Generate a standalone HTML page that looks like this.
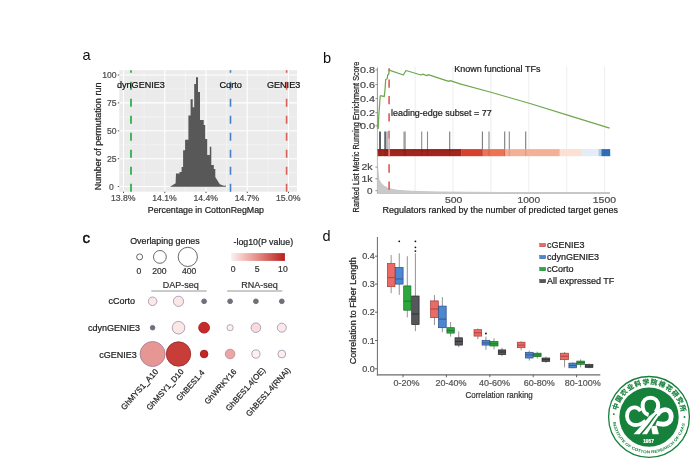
<!DOCTYPE html>
<html><head><meta charset="utf-8"><title>Figure</title>
<style>
html,body{margin:0;padding:0;background:#fff;}
svg{display:block;}
text{font-family:"Liberation Sans",sans-serif;}
.cj{font-family:"Liberation Sans","Noto Sans CJK SC",sans-serif;}
</style></head><body>
<svg width="700" height="467" viewBox="0 0 700 467">
<rect x="0" y="0" width="700" height="467" fill="#ffffff"/>
<defs><filter id="soft" x="0" y="0" width="700" height="467" filterUnits="userSpaceOnUse"><feGaussianBlur stdDeviation="0.45"/></filter></defs>
<g filter="url(#soft)">

<g id="panel-a">
<text x="82.4" y="59.6" font-size="14.6" fill="#111" stroke="none">a</text>
<rect x="119.2" y="70.2" width="177.8" height="121.49999999999999" fill="#ebebeb"/>
<line x1="144.15" y1="70.2" x2="144.15" y2="191.7" stroke="#f6f6f6" stroke-width="0.6"/>
<line x1="185.4" y1="70.2" x2="185.4" y2="191.7" stroke="#f6f6f6" stroke-width="0.6"/>
<line x1="226.6" y1="70.2" x2="226.6" y2="191.7" stroke="#f6f6f6" stroke-width="0.6"/>
<line x1="267.9" y1="70.2" x2="267.9" y2="191.7" stroke="#f6f6f6" stroke-width="0.6"/>
<line x1="119.2" y1="88.95" x2="297.0" y2="88.95" stroke="#f6f6f6" stroke-width="0.6"/>
<line x1="119.2" y1="116.85" x2="297.0" y2="116.85" stroke="#f6f6f6" stroke-width="0.6"/>
<line x1="119.2" y1="144.75" x2="297.0" y2="144.75" stroke="#f6f6f6" stroke-width="0.6"/>
<line x1="119.2" y1="172.6" x2="297.0" y2="172.6" stroke="#f6f6f6" stroke-width="0.6"/>
<line x1="123.5" y1="70.2" x2="123.5" y2="191.7" stroke="#ffffff" stroke-width="1.1"/>
<line x1="164.8" y1="70.2" x2="164.8" y2="191.7" stroke="#ffffff" stroke-width="1.1"/>
<line x1="206.0" y1="70.2" x2="206.0" y2="191.7" stroke="#ffffff" stroke-width="1.1"/>
<line x1="247.25" y1="70.2" x2="247.25" y2="191.7" stroke="#ffffff" stroke-width="1.1"/>
<line x1="288.5" y1="70.2" x2="288.5" y2="191.7" stroke="#ffffff" stroke-width="1.1"/>
<line x1="119.2" y1="75" x2="297.0" y2="75" stroke="#ffffff" stroke-width="1.1"/>
<line x1="119.2" y1="102.9" x2="297.0" y2="102.9" stroke="#ffffff" stroke-width="1.1"/>
<line x1="119.2" y1="130.8" x2="297.0" y2="130.8" stroke="#ffffff" stroke-width="1.1"/>
<line x1="119.2" y1="158.7" x2="297.0" y2="158.7" stroke="#ffffff" stroke-width="1.1"/>
<line x1="119.2" y1="186.5" x2="297.0" y2="186.5" stroke="#ffffff" stroke-width="1.1"/>
<polygon fill="#585858" points="170,186.7 175.6,183.2 176,173.6 179.5,173.6 179.5,172 181.6,172 181.6,167.1 183.1,167.1 183.1,150.2 185.1,150.2 185.1,139.7 188.4,139.7 188.4,115.5 190.6,115.5 190.6,99.2 192.7,99.2 192.7,107.2 194.2,107.2 194.2,84.1 196,84.1 196,77.2 198,77.2 198,92.1 200,92.1 200,120 203.7,120 203.7,125 205.2,125 205.2,139 207.2,139 207.2,155 209.8,155 209.8,146.7 211.3,146.7 211.3,165 213.8,165 213.8,169 215.3,169 215.3,177 219.8,184.2 224.5,186 225.4,185 226,186.7"/>
<line x1="131.0" y1="191.7" x2="131.0" y2="70.2" stroke="#1fa637" stroke-width="1.6" stroke-dasharray="8 9"/>
<line x1="230.5" y1="191.7" x2="230.5" y2="70.2" stroke="#4a80c4" stroke-width="1.6" stroke-dasharray="8 9"/>
<line x1="286.6" y1="191.7" x2="286.6" y2="70.2" stroke="#d9605a" stroke-width="1.6" stroke-dasharray="8 9"/>
<text x="117.0" y="87.6" font-size="9" fill="#111" textLength="47.8" lengthAdjust="spacingAndGlyphs" stroke="#111" stroke-width="0.22">dynGENIE3</text>
<text x="219.5" y="87.6" font-size="9" fill="#111" textLength="22.4" lengthAdjust="spacingAndGlyphs" stroke="#111" stroke-width="0.22">Corto</text>
<text x="267.0" y="87.6" font-size="9" fill="#111" textLength="33.2" lengthAdjust="spacingAndGlyphs" stroke="#111" stroke-width="0.22">GENIE3</text>
<text x="116.6" y="78.1" font-size="8.6" fill="#4d4d4d" text-anchor="end" stroke="#4d4d4d" stroke-width="0.22">100</text>
<line x1="117.8" y1="75" x2="119.2" y2="75" stroke="#444" stroke-width="0.9"/>
<text x="116.6" y="106.0" font-size="8.6" fill="#4d4d4d" text-anchor="end" stroke="#4d4d4d" stroke-width="0.22">75</text>
<line x1="117.8" y1="102.9" x2="119.2" y2="102.9" stroke="#444" stroke-width="0.9"/>
<text x="116.6" y="133.9" font-size="8.6" fill="#4d4d4d" text-anchor="end" stroke="#4d4d4d" stroke-width="0.22">50</text>
<line x1="117.8" y1="130.8" x2="119.2" y2="130.8" stroke="#444" stroke-width="0.9"/>
<text x="116.6" y="161.79999999999998" font-size="8.6" fill="#4d4d4d" text-anchor="end" stroke="#4d4d4d" stroke-width="0.22">25</text>
<line x1="117.8" y1="158.7" x2="119.2" y2="158.7" stroke="#444" stroke-width="0.9"/>
<text x="113.8" y="189.6" font-size="8.6" fill="#4d4d4d" text-anchor="end" stroke="#4d4d4d" stroke-width="0.22">0</text>
<line x1="117.8" y1="186.5" x2="119.2" y2="186.5" stroke="#444" stroke-width="0.9"/>
<text x="123.2" y="201.1" font-size="8.7" fill="#4d4d4d" text-anchor="middle" stroke="#4d4d4d" stroke-width="0.22">13.8%</text>
<line x1="123.5" y1="191.7" x2="123.5" y2="193.1" stroke="#444" stroke-width="0.9"/>
<text x="164.5" y="201.1" font-size="8.7" fill="#4d4d4d" text-anchor="middle" stroke="#4d4d4d" stroke-width="0.22">14.1%</text>
<line x1="164.8" y1="191.7" x2="164.8" y2="193.1" stroke="#444" stroke-width="0.9"/>
<text x="205.7" y="201.1" font-size="8.7" fill="#4d4d4d" text-anchor="middle" stroke="#4d4d4d" stroke-width="0.22">14.4%</text>
<line x1="206.0" y1="191.7" x2="206.0" y2="193.1" stroke="#444" stroke-width="0.9"/>
<text x="246.95" y="201.1" font-size="8.7" fill="#4d4d4d" text-anchor="middle" stroke="#4d4d4d" stroke-width="0.22">14.7%</text>
<line x1="247.25" y1="191.7" x2="247.25" y2="193.1" stroke="#444" stroke-width="0.9"/>
<text x="288.2" y="201.1" font-size="8.7" fill="#4d4d4d" text-anchor="middle" stroke="#4d4d4d" stroke-width="0.22">15.0%</text>
<line x1="288.5" y1="191.7" x2="288.5" y2="193.1" stroke="#444" stroke-width="0.9"/>
<text x="147.8" y="213.1" font-size="8.9" fill="#222" textLength="116.2" lengthAdjust="spacingAndGlyphs" stroke="#222" stroke-width="0.22">Percentage in CottonRegMap</text>
<text transform="translate(101.4,190.2) rotate(-90)" font-size="9" fill="#222" textLength="107.6" lengthAdjust="spacingAndGlyphs" stroke="#222" stroke-width="0.22">Number of permutation run</text>
</g>
<g id="panel-b">
<text x="323.0" y="62.6" font-size="14.6" fill="#111" stroke="none">b</text>
<line x1="415.1" y1="66.5" x2="415.1" y2="193" stroke="#e8e8e8" stroke-width="0.8"/>
<line x1="453.0" y1="66.5" x2="453.0" y2="193" stroke="#e8e8e8" stroke-width="0.8"/>
<line x1="490.9" y1="66.5" x2="490.9" y2="193" stroke="#e8e8e8" stroke-width="0.8"/>
<line x1="528.8" y1="66.5" x2="528.8" y2="193" stroke="#e8e8e8" stroke-width="0.8"/>
<line x1="566.7" y1="66.5" x2="566.7" y2="193" stroke="#e8e8e8" stroke-width="0.8"/>
<line x1="604.6" y1="66.5" x2="604.6" y2="193" stroke="#e8e8e8" stroke-width="0.8"/>
<line x1="377.4" y1="67.5" x2="377.4" y2="129" stroke="#777" stroke-width="0.8"/><line x1="377.4" y1="129" x2="377.4" y2="193" stroke="#a4a8ae" stroke-width="0.8"/>
<line x1="377" y1="193.0" x2="610" y2="193.0" stroke="#8c8c8c" stroke-width="1.1"/>
<polygon fill="#c9c9c9" points="377.8,193.3 377.8,158.5 378.3,169.3 379.3,179.3 381.4,182.9 384.3,185.7 388.6,188.1 397.1,189.7 411.4,190.7 440,191.4 500,191.9 560,192.2 610,192.6 610,193.3"/>
<line x1="389.1" y1="68.2" x2="389.1" y2="71.2" stroke="#dc5a55" stroke-width="1.6"/>
<line x1="389.1" y1="79.5" x2="389.1" y2="87.8" stroke="#dc5a55" stroke-width="1.6"/>
<line x1="389.1" y1="96.0" x2="389.1" y2="104.3" stroke="#dc5a55" stroke-width="1.6"/>
<line x1="389.1" y1="113.2" x2="389.1" y2="121.5" stroke="#dc5a55" stroke-width="1.6"/>
<line x1="389.1" y1="130.7" x2="389.1" y2="138.6" stroke="#dc5a55" stroke-width="1.6"/>
<line x1="389.1" y1="164.3" x2="389.1" y2="172.70000000000002" stroke="#dc5a55" stroke-width="1.6"/>
<line x1="389.1" y1="181.4" x2="389.1" y2="189.8" stroke="#dc5a55" stroke-width="1.6"/>
<line x1="380.0" y1="131.5" x2="380.0" y2="149.2" stroke="#3b4a4e" stroke-width="1.7"/>
<line x1="385.1" y1="131.5" x2="385.1" y2="149.2" stroke="#505a5e" stroke-width="1.6"/>
<line x1="387.0" y1="131.5" x2="387.0" y2="149.2" stroke="#8a9094" stroke-width="1.2"/>
<line x1="389.1" y1="131.5" x2="389.1" y2="149.2" stroke="#b9a0a0" stroke-width="1.2"/>
<line x1="404.6" y1="131.5" x2="404.6" y2="149.2" stroke="#a0a0a0" stroke-width="2.4"/>
<line x1="421.7" y1="131.5" x2="421.7" y2="149.2" stroke="#8a8a8a" stroke-width="1.1"/>
<line x1="427.5" y1="131.5" x2="427.5" y2="149.2" stroke="#8a8a8a" stroke-width="1.1"/>
<line x1="449.7" y1="131.5" x2="449.7" y2="149.2" stroke="#7a7a7a" stroke-width="1.1"/>
<line x1="482.4" y1="131.5" x2="482.4" y2="149.2" stroke="#7a7a7a" stroke-width="1.1"/>
<line x1="489.0" y1="131.5" x2="489.0" y2="149.2" stroke="#8a8a8a" stroke-width="1.1"/>
<line x1="504.7" y1="131.5" x2="504.7" y2="149.2" stroke="#7a7a7a" stroke-width="1.1"/>
<line x1="509.3" y1="131.5" x2="509.3" y2="149.2" stroke="#8a8a8a" stroke-width="1.1"/>
<line x1="525.7" y1="131.5" x2="525.7" y2="149.2" stroke="#7a7a7a" stroke-width="1.1"/>
<rect x="377.6" y="149.1" width="83.7" height="7.1" fill="#a3281f"/>
<rect x="461.1" y="149.1" width="21.7" height="7.1" fill="#d8402f"/>
<rect x="482.6" y="149.1" width="22.599999999999977" height="7.1" fill="#ee7355"/>
<rect x="505.0" y="149.1" width="54.90000000000005" height="7.1" fill="#f4b097"/>
<rect x="559.7" y="149.1" width="22.2" height="7.1" fill="#fbe0d3"/>
<rect x="581.7" y="149.1" width="17.099999999999977" height="7.1" fill="#e3ecf7"/>
<rect x="598.6" y="149.1" width="2.9999999999999547" height="7.1" fill="#a8c8e4"/>
<rect x="601.4" y="149.1" width="8.800000000000022" height="7.1" fill="#2f6db3"/>
<rect x="377.6" y="149.1" width="83.5" height="2.2" fill="#8c1c17" opacity="0.55"/>
<line x1="380.0" y1="149.2" x2="380.0" y2="156.2" stroke="#000" stroke-opacity="0.13" stroke-width="1.7"/>
<line x1="385.1" y1="149.2" x2="385.1" y2="156.2" stroke="#000" stroke-opacity="0.13" stroke-width="1.6"/>
<line x1="387.0" y1="149.2" x2="387.0" y2="156.2" stroke="#000" stroke-opacity="0.13" stroke-width="1.2"/>
<line x1="389.1" y1="149.2" x2="389.1" y2="156.2" stroke="#000" stroke-opacity="0.13" stroke-width="1.2"/>
<line x1="404.6" y1="149.2" x2="404.6" y2="156.2" stroke="#000" stroke-opacity="0.13" stroke-width="2.4"/>
<line x1="421.7" y1="149.2" x2="421.7" y2="156.2" stroke="#000" stroke-opacity="0.13" stroke-width="1.1"/>
<line x1="427.5" y1="149.2" x2="427.5" y2="156.2" stroke="#000" stroke-opacity="0.13" stroke-width="1.1"/>
<line x1="449.7" y1="149.2" x2="449.7" y2="156.2" stroke="#000" stroke-opacity="0.13" stroke-width="1.1"/>
<line x1="482.4" y1="149.2" x2="482.4" y2="156.2" stroke="#000" stroke-opacity="0.13" stroke-width="1.1"/>
<line x1="489.0" y1="149.2" x2="489.0" y2="156.2" stroke="#000" stroke-opacity="0.13" stroke-width="1.1"/>
<line x1="504.7" y1="149.2" x2="504.7" y2="156.2" stroke="#000" stroke-opacity="0.13" stroke-width="1.1"/>
<line x1="509.3" y1="149.2" x2="509.3" y2="156.2" stroke="#000" stroke-opacity="0.13" stroke-width="1.1"/>
<line x1="525.7" y1="149.2" x2="525.7" y2="156.2" stroke="#000" stroke-opacity="0.13" stroke-width="1.1"/>
<line x1="389.1" y1="149.1" x2="389.1" y2="156.2" stroke="#f08078" stroke-width="1.6"/>
<polyline fill="none" stroke="#6ea84c" stroke-width="1.25" stroke-linejoin="round" points="378.2,129 378.7,117 380.2,96 380.8,95.7 384.2,96.7 385,90 385.7,79.5 387.2,78.7 387.7,75 388.7,74.2 389.2,70.2 403.3,75 406,70.5 421,75 422.5,74.2 427,75.7 428.2,74.7 448.7,81.3 450.2,80.7 460,83.8 490,92.0 530,103.5 570,115.8 609.6,128.2"/>
<text x="360.0" y="73.30000000000001" font-size="9.5" fill="#4a4a4a" textLength="15" lengthAdjust="spacingAndGlyphs" stroke="#4a4a4a" stroke-width="0.22">0.8</text>
<line x1="375.4" y1="69.9" x2="377.4" y2="69.9" stroke="#777" stroke-width="0.8"/>
<text x="360.0" y="87.9" font-size="9.5" fill="#4a4a4a" textLength="15" lengthAdjust="spacingAndGlyphs" stroke="#4a4a4a" stroke-width="0.22">0.6</text>
<line x1="375.4" y1="84.5" x2="377.4" y2="84.5" stroke="#777" stroke-width="0.8"/>
<text x="360.0" y="102.0" font-size="9.5" fill="#4a4a4a" textLength="15" lengthAdjust="spacingAndGlyphs" stroke="#4a4a4a" stroke-width="0.22">0.4</text>
<line x1="375.4" y1="98.6" x2="377.4" y2="98.6" stroke="#777" stroke-width="0.8"/>
<text x="360.0" y="116.10000000000001" font-size="9.5" fill="#4a4a4a" textLength="15" lengthAdjust="spacingAndGlyphs" stroke="#4a4a4a" stroke-width="0.22">0.2</text>
<line x1="375.4" y1="112.7" x2="377.4" y2="112.7" stroke="#777" stroke-width="0.8"/>
<text x="360.0" y="129.2" font-size="9.5" fill="#4a4a4a" textLength="15" lengthAdjust="spacingAndGlyphs" stroke="#4a4a4a" stroke-width="0.22">0.0</text>
<line x1="375.4" y1="125.8" x2="377.4" y2="125.8" stroke="#777" stroke-width="0.8"/>
<text x="361.4" y="170.4" font-size="9.3" fill="#4a4a4a" textLength="11.2" lengthAdjust="spacingAndGlyphs" stroke="#4a4a4a" stroke-width="0.22">2k</text>
<line x1="375.4" y1="167.1" x2="377.4" y2="167.1" stroke="#777" stroke-width="0.8"/>
<text x="361.4" y="182.10000000000002" font-size="9.3" fill="#4a4a4a" textLength="11.2" lengthAdjust="spacingAndGlyphs" stroke="#4a4a4a" stroke-width="0.22">1k</text>
<line x1="375.4" y1="178.8" x2="377.4" y2="178.8" stroke="#777" stroke-width="0.8"/>
<text x="367.1" y="194.0" font-size="9.3" fill="#4a4a4a" textLength="5.5" lengthAdjust="spacingAndGlyphs" stroke="#4a4a4a" stroke-width="0.22">0</text>
<line x1="375.4" y1="190.7" x2="377.4" y2="190.7" stroke="#777" stroke-width="0.8"/>
<text x="445.0" y="203.3" font-size="9.4" fill="#4a4a4a" textLength="17.4" lengthAdjust="spacingAndGlyphs" stroke="#4a4a4a" stroke-width="0.22">500</text>
<text x="517.5" y="203.3" font-size="9.4" fill="#4a4a4a" textLength="22.6" lengthAdjust="spacingAndGlyphs" stroke="#4a4a4a" stroke-width="0.22">1000</text>
<text x="592.8" y="203.3" font-size="9.4" fill="#4a4a4a" textLength="23.2" lengthAdjust="spacingAndGlyphs" stroke="#4a4a4a" stroke-width="0.22">1500</text>
<text x="454.2" y="71.9" font-size="8.7" fill="#222" textLength="86.2" lengthAdjust="spacingAndGlyphs" stroke="#222" stroke-width="0.22">Known functional TFs</text>
<text x="391.0" y="115.5" font-size="9" fill="#222" textLength="100.7" lengthAdjust="spacingAndGlyphs" stroke="#222" stroke-width="0.22">leading-edge subset = 77</text>
<text x="382.6" y="213.4" font-size="8.7" fill="#222" textLength="235.4" lengthAdjust="spacingAndGlyphs" stroke="#222" stroke-width="0.22">Regulators ranked by the number of predicted target genes</text>
<text transform="translate(358.7,212.4) rotate(-90)" font-size="8.2" fill="#222" textLength="150.8" lengthAdjust="spacingAndGlyphs" stroke="#222" stroke-width="0.22">Ranked List Metric Running Enrichment Score</text>
</g>
<g id="panel-c">
<text x="82.6" y="243.2" font-size="15.2" fill="#111" stroke="#111" stroke-width="0.5">c</text>
<text x="130.2" y="244.0" font-size="9" fill="#222" textLength="69.5" lengthAdjust="spacingAndGlyphs" stroke="#222" stroke-width="0.22">Overlaping genes</text>
<circle cx="139.6" cy="256.9" r="3.0" fill="#fff" stroke="#444" stroke-width="0.8"/>
<circle cx="159.9" cy="256.9" r="6.4" fill="#fff" stroke="#444" stroke-width="0.8"/>
<circle cx="187.8" cy="256.9" r="9.6" fill="#fff" stroke="#444" stroke-width="0.8"/>
<text x="138.8" y="273.5" font-size="8.6" fill="#333" text-anchor="middle" stroke="#333" stroke-width="0.22">0</text>
<text x="159.3" y="273.5" font-size="8.6" fill="#333" text-anchor="middle" stroke="#333" stroke-width="0.22">200</text>
<text x="189.2" y="273.5" font-size="8.6" fill="#333" text-anchor="middle" stroke="#333" stroke-width="0.22">400</text>
<text x="233.5" y="244.6" font-size="9" fill="#222" textLength="59.6" lengthAdjust="spacingAndGlyphs" stroke="#222" stroke-width="0.22">-log10(P value)</text>
<defs><linearGradient id="pg" x1="0" x2="1" y1="0" y2="0"><stop offset="0" stop-color="#fdf1ef"/><stop offset="0.5" stop-color="#e58a84"/><stop offset="1" stop-color="#b71f1f"/></linearGradient></defs>
<rect x="231.1" y="253.1" width="53.8" height="7.8" fill="url(#pg)"/>
<text x="233.1" y="271.8" font-size="8.6" fill="#333" text-anchor="middle" stroke="#333" stroke-width="0.22">0</text>
<text x="257.1" y="271.8" font-size="8.6" fill="#333" text-anchor="middle" stroke="#333" stroke-width="0.22">5</text>
<text x="282.9" y="271.8" font-size="8.6" fill="#333" text-anchor="middle" stroke="#333" stroke-width="0.22">10</text>
<text x="162.8" y="288.0" font-size="9" fill="#333" stroke="#333" stroke-width="0.22">DAP-seq</text>
<text x="241.2" y="288.0" font-size="9" fill="#333" stroke="#333" stroke-width="0.22">RNA-seq</text>
<line x1="151.3" y1="291.0" x2="206.6" y2="291.0" stroke="#7c7c7c" stroke-width="0.8"/>
<line x1="227.1" y1="291.0" x2="282.3" y2="291.0" stroke="#7c7c7c" stroke-width="0.8"/>
<text x="135.0" y="303.6" font-size="9" fill="#222" text-anchor="end" stroke="#222" stroke-width="0.22">cCorto</text>
<text x="140.1" y="331.0" font-size="9" fill="#222" text-anchor="end" stroke="#222" stroke-width="0.22">cdynGENIE3</text>
<text x="136.7" y="358.0" font-size="9" fill="#222" text-anchor="end" stroke="#222" stroke-width="0.22">cGENIE3</text>
<circle cx="152.6" cy="301.3" r="4.3" fill="#fbe8e7" stroke="#a59bb2" stroke-width="0.9"/>
<circle cx="178.5" cy="301.3" r="5.1" fill="#fbe8e6" stroke="#a59bb2" stroke-width="0.9"/>
<circle cx="204.1" cy="301.3" r="2.4" fill="#6c6f79" stroke="#6c6f79" stroke-width="0.9"/>
<circle cx="230.1" cy="301.3" r="2.4" fill="#6c6f79" stroke="#6c6f79" stroke-width="0.9"/>
<circle cx="255.9" cy="301.3" r="2.4" fill="#6c6f79" stroke="#6c6f79" stroke-width="0.9"/>
<circle cx="281.8" cy="301.3" r="2.4" fill="#6c6f79" stroke="#6c6f79" stroke-width="0.9"/>
<circle cx="152.6" cy="327.7" r="2.3" fill="#6c6f79" stroke="#6c6f79" stroke-width="0.9"/>
<circle cx="178.5" cy="327.7" r="6.3" fill="#fbe8e6" stroke="#a59bb2" stroke-width="0.9"/>
<circle cx="204.1" cy="327.7" r="5.4" fill="#c62a2a" stroke="#a82020" stroke-width="0.9"/>
<circle cx="230.1" cy="327.7" r="3.1" fill="#fdf1ef" stroke="#aa9fb4" stroke-width="0.9"/>
<circle cx="255.9" cy="327.7" r="4.8" fill="#f8dcdc" stroke="#a898b0" stroke-width="0.9"/>
<circle cx="281.8" cy="327.7" r="4.5" fill="#fce9e7" stroke="#a59bb6" stroke-width="0.9"/>
<circle cx="152.6" cy="354.0" r="12.5" fill="#e69793" stroke="#a8809a" stroke-width="0.9"/>
<circle cx="178.5" cy="354.0" r="12.2" fill="#c83e39" stroke="#9c2c2c" stroke-width="0.9"/>
<circle cx="204.1" cy="354.0" r="3.8" fill="#c42626" stroke="#a01818" stroke-width="0.9"/>
<circle cx="230.1" cy="354.0" r="4.8" fill="#eda5a3" stroke="#c090a0" stroke-width="0.9"/>
<circle cx="255.9" cy="354.0" r="4.1" fill="#fdf1ef" stroke="#a59bb2" stroke-width="0.9"/>
<circle cx="281.8" cy="354.0" r="3.9" fill="#fdeeee" stroke="#a59bb6" stroke-width="0.9"/>
<text transform="translate(158.6,372.0) rotate(-48.5)" font-size="8.05" fill="#222" text-anchor="end" stroke="#222" stroke-width="0.22">GhMYS1_A10</text>
<text transform="translate(184.3,372.0) rotate(-48.5)" font-size="8.05" fill="#222" text-anchor="end" stroke="#222" stroke-width="0.22">GhMSY1_D10</text>
<text transform="translate(205.0,373.0) rotate(-48.5)" font-size="8.05" fill="#222" text-anchor="end" stroke="#222" stroke-width="0.22">GhBES1.4</text>
<text transform="translate(237.0,372.0) rotate(-48.5)" font-size="8.05" fill="#222" text-anchor="end" stroke="#222" stroke-width="0.22">GhWRKY16</text>
<text transform="translate(265.8,370.4) rotate(-48.5)" font-size="8.05" fill="#222" text-anchor="end" stroke="#222" stroke-width="0.22">GhBES1.4(OE)</text>
<text transform="translate(290.7,370.4) rotate(-48.5)" font-size="8.05" fill="#222" text-anchor="end" stroke="#222" stroke-width="0.22">GhBES1.4(RNAi)</text>
</g>
<g id="panel-d">
<text x="322.4" y="240.9" font-size="14.5" fill="#111" stroke="none">d</text>
<line x1="377.4" y1="237" x2="377.4" y2="375.4" stroke="#6a6a6a" stroke-width="1.0"/>
<line x1="376.9" y1="374.8" x2="600.3" y2="374.8" stroke="#6a6a6a" stroke-width="1.2"/>
<text x="374.7" y="259.4" font-size="9" fill="#4a4a4a" text-anchor="end" stroke="#4a4a4a" stroke-width="0.22">0.4</text>
<line x1="375.0" y1="256.2" x2="377.4" y2="256.2" stroke="#555" stroke-width="0.9"/>
<text x="374.7" y="287.3" font-size="9" fill="#4a4a4a" text-anchor="end" stroke="#4a4a4a" stroke-width="0.22">0.3</text>
<line x1="375.0" y1="284.1" x2="377.4" y2="284.1" stroke="#555" stroke-width="0.9"/>
<text x="374.7" y="315.4" font-size="9" fill="#4a4a4a" text-anchor="end" stroke="#4a4a4a" stroke-width="0.22">0.2</text>
<line x1="375.0" y1="312.2" x2="377.4" y2="312.2" stroke="#555" stroke-width="0.9"/>
<text x="374.7" y="343.7" font-size="9" fill="#4a4a4a" text-anchor="end" stroke="#4a4a4a" stroke-width="0.22">0.1</text>
<line x1="375.0" y1="340.5" x2="377.4" y2="340.5" stroke="#555" stroke-width="0.9"/>
<text x="374.7" y="372.0" font-size="9" fill="#4a4a4a" text-anchor="end" stroke="#4a4a4a" stroke-width="0.22">0.0</text>
<line x1="375.0" y1="368.8" x2="377.4" y2="368.8" stroke="#555" stroke-width="0.9"/>
<line x1="403.0" y1="374.8" x2="403.0" y2="377.3" stroke="#555" stroke-width="0.9"/>
<text x="406.5" y="386.0" font-size="9" fill="#555" text-anchor="middle" stroke="#555" stroke-width="0.22">0-20%</text>
<line x1="446.4" y1="374.8" x2="446.4" y2="377.3" stroke="#555" stroke-width="0.9"/>
<text x="450.9" y="386.0" font-size="9" fill="#555" text-anchor="middle" stroke="#555" stroke-width="0.22">20-40%</text>
<line x1="489.8" y1="374.8" x2="489.8" y2="377.3" stroke="#555" stroke-width="0.9"/>
<text x="494.6" y="386.0" font-size="9" fill="#555" text-anchor="middle" stroke="#555" stroke-width="0.22">40-60%</text>
<line x1="533.2" y1="374.8" x2="533.2" y2="377.3" stroke="#555" stroke-width="0.9"/>
<text x="539.3" y="386.0" font-size="9" fill="#555" text-anchor="middle" stroke="#555" stroke-width="0.22">60-80%</text>
<line x1="576.6" y1="374.8" x2="576.6" y2="377.3" stroke="#555" stroke-width="0.9"/>
<text x="582.7" y="386.0" font-size="9" fill="#555" text-anchor="middle" stroke="#555" stroke-width="0.22">80-100%</text>
<text x="465.5" y="398.0" font-size="8.7" fill="#333" textLength="67.3" lengthAdjust="spacingAndGlyphs" stroke="#333" stroke-width="0.22">Correlation ranking</text>
<text transform="translate(355.5,364.2) rotate(-90)" font-size="9" fill="#1a1a1a" textLength="107" lengthAdjust="spacingAndGlyphs" stroke="#1a1a1a" stroke-width="0.22">Correlation to Fiber Length</text>
<line x1="391.15" y1="255.0" x2="391.15" y2="293.2" stroke="#777" stroke-width="0.8"/>
<rect x="387.4" y="263.6" width="7.50" height="23.10" fill="#ea6b65" stroke="#a03c38" stroke-width="0.7"/>
<line x1="387.4" y1="277.6" x2="394.9" y2="277.6" stroke="#a03c38" stroke-width="0.8"/>
<line x1="399.25" y1="253.3" x2="399.25" y2="294.9" stroke="#777" stroke-width="0.8"/>
<rect x="395.4" y="267.5" width="7.70" height="16.60" fill="#4d87d2" stroke="#2c4c82" stroke-width="0.7"/>
<line x1="395.4" y1="279.0" x2="403.1" y2="279.0" stroke="#2c4c82" stroke-width="0.8"/>
<circle cx="399.25" cy="241.3" r="0.9" fill="#111"/>
<line x1="407.29999999999995" y1="256.2" x2="407.29999999999995" y2="317.4" stroke="#777" stroke-width="0.8"/>
<rect x="403.7" y="285.9" width="7.20" height="24.30" fill="#2aa83c" stroke="#1a6a28" stroke-width="0.7"/>
<line x1="403.7" y1="301.2" x2="410.9" y2="301.2" stroke="#1a6a28" stroke-width="0.8"/>
<line x1="415.4" y1="253.3" x2="415.4" y2="331.1" stroke="#777" stroke-width="0.8"/>
<rect x="411.7" y="296.0" width="7.40" height="28.60" fill="#55585a" stroke="#26282a" stroke-width="0.7"/>
<line x1="411.7" y1="314.0" x2="419.1" y2="314.0" stroke="#26282a" stroke-width="0.8"/>
<circle cx="415.4" cy="241.3" r="0.9" fill="#111"/>
<circle cx="415.4" cy="247.3" r="0.9" fill="#111"/>
<circle cx="415.4" cy="251.1" r="0.9" fill="#111"/>
<line x1="434.45000000000005" y1="295.1" x2="434.45000000000005" y2="325.0" stroke="#777" stroke-width="0.8"/>
<rect x="430.6" y="300.9" width="7.70" height="16.70" fill="#ea6b65" stroke="#a03c38" stroke-width="0.7"/>
<line x1="430.6" y1="309.0" x2="438.3" y2="309.0" stroke="#a03c38" stroke-width="0.8"/>
<line x1="442.35" y1="297.1" x2="442.35" y2="332.3" stroke="#777" stroke-width="0.8"/>
<rect x="438.5" y="306.1" width="7.70" height="21.60" fill="#4d87d2" stroke="#2c4c82" stroke-width="0.7"/>
<line x1="438.5" y1="319.1" x2="446.2" y2="319.1" stroke="#2c4c82" stroke-width="0.8"/>
<line x1="450.6" y1="322.0" x2="450.6" y2="336.6" stroke="#777" stroke-width="0.8"/>
<rect x="446.9" y="327.7" width="7.40" height="5.40" fill="#2aa83c" stroke="#1a6a28" stroke-width="0.7"/>
<line x1="446.9" y1="330.6" x2="454.3" y2="330.6" stroke="#1a6a28" stroke-width="0.8"/>
<line x1="458.75" y1="331.4" x2="458.75" y2="347.2" stroke="#777" stroke-width="0.8"/>
<rect x="455.0" y="337.8" width="7.50" height="7.30" fill="#55585a" stroke="#26282a" stroke-width="0.7"/>
<line x1="455.0" y1="341.4" x2="462.5" y2="341.4" stroke="#26282a" stroke-width="0.8"/>
<line x1="477.85" y1="328.5" x2="477.85" y2="339.1" stroke="#777" stroke-width="0.8"/>
<rect x="474.0" y="329.7" width="7.70" height="6.40" fill="#ea6b65" stroke="#a03c38" stroke-width="0.7"/>
<line x1="474.0" y1="332.8" x2="481.7" y2="332.8" stroke="#a03c38" stroke-width="0.8"/>
<line x1="485.95000000000005" y1="336.6" x2="485.95000000000005" y2="349.9" stroke="#777" stroke-width="0.8"/>
<rect x="482.1" y="340.3" width="7.70" height="4.80" fill="#4d87d2" stroke="#2c4c82" stroke-width="0.7"/>
<line x1="482.1" y1="342.9" x2="489.8" y2="342.9" stroke="#2c4c82" stroke-width="0.8"/>
<circle cx="485.95000000000005" cy="333.5" r="0.9" fill="#111"/>
<line x1="494.0" y1="338.3" x2="494.0" y2="349.4" stroke="#777" stroke-width="0.8"/>
<rect x="490.0" y="341.4" width="8.00" height="4.60" fill="#2aa83c" stroke="#1a6a28" stroke-width="0.7"/>
<line x1="490.0" y1="343.8" x2="498.0" y2="343.8" stroke="#1a6a28" stroke-width="0.8"/>
<line x1="502.0" y1="347.7" x2="502.0" y2="356.3" stroke="#777" stroke-width="0.8"/>
<rect x="498.3" y="349.9" width="7.40" height="4.70" fill="#55585a" stroke="#26282a" stroke-width="0.7"/>
<line x1="498.3" y1="352.0" x2="505.7" y2="352.0" stroke="#26282a" stroke-width="0.8"/>
<line x1="521.15" y1="341.2" x2="521.15" y2="350.3" stroke="#777" stroke-width="0.8"/>
<rect x="517.3" y="342.2" width="7.70" height="5.50" fill="#ea6b65" stroke="#a03c38" stroke-width="0.7"/>
<line x1="517.3" y1="345.1" x2="525.0" y2="345.1" stroke="#a03c38" stroke-width="0.8"/>
<line x1="529.25" y1="350.6" x2="529.25" y2="360.6" stroke="#777" stroke-width="0.8"/>
<rect x="525.4" y="352.3" width="7.70" height="5.70" fill="#4d87d2" stroke="#2c4c82" stroke-width="0.7"/>
<line x1="525.4" y1="354.9" x2="533.1" y2="354.9" stroke="#2c4c82" stroke-width="0.8"/>
<line x1="537.25" y1="351.7" x2="537.25" y2="358.5" stroke="#777" stroke-width="0.8"/>
<rect x="533.4" y="353.2" width="7.70" height="3.40" fill="#2aa83c" stroke="#1a6a28" stroke-width="0.7"/>
<line x1="533.4" y1="354.9" x2="541.1" y2="354.9" stroke="#1a6a28" stroke-width="0.8"/>
<line x1="545.85" y1="356.6" x2="545.85" y2="362.8" stroke="#777" stroke-width="0.8"/>
<rect x="542.0" y="358.0" width="7.70" height="3.40" fill="#55585a" stroke="#26282a" stroke-width="0.7"/>
<line x1="542.0" y1="359.7" x2="549.7" y2="359.7" stroke="#26282a" stroke-width="0.8"/>
<line x1="564.55" y1="352.0" x2="564.55" y2="367.4" stroke="#777" stroke-width="0.8"/>
<rect x="560.6" y="353.2" width="7.90" height="6.50" fill="#ea6b65" stroke="#a03c38" stroke-width="0.7"/>
<line x1="560.6" y1="356.3" x2="568.5" y2="356.3" stroke="#a03c38" stroke-width="0.8"/>
<line x1="572.75" y1="362.3" x2="572.75" y2="368.3" stroke="#777" stroke-width="0.8"/>
<rect x="568.9" y="363.1" width="7.70" height="4.70" fill="#4d87d2" stroke="#2c4c82" stroke-width="0.7"/>
<line x1="568.9" y1="365.4" x2="576.6" y2="365.4" stroke="#2c4c82" stroke-width="0.8"/>
<line x1="580.65" y1="359.4" x2="580.65" y2="367.4" stroke="#777" stroke-width="0.8"/>
<rect x="576.8" y="361.1" width="7.70" height="3.20" fill="#2aa83c" stroke="#1a6a28" stroke-width="0.7"/>
<line x1="576.8" y1="362.6" x2="584.5" y2="362.6" stroke="#1a6a28" stroke-width="0.8"/>
<line x1="589.05" y1="363.5" x2="589.05" y2="368.3" stroke="#777" stroke-width="0.8"/>
<rect x="585.2" y="364.5" width="7.70" height="2.90" fill="#55585a" stroke="#26282a" stroke-width="0.7"/>
<line x1="585.2" y1="366.1" x2="592.9" y2="366.1" stroke="#26282a" stroke-width="0.8"/>
<rect x="539.7" y="243.4" width="6" height="3.4" fill="#ea6b65" stroke="#a03c38" stroke-width="0.4"/>
<text x="547.0" y="247.70000000000002" font-size="9" fill="#222" stroke="#222" stroke-width="0.22">cGENIE3</text>
<rect x="539.7" y="255.4" width="6" height="3.4" fill="#4d87d2" stroke="#2c4c82" stroke-width="0.4"/>
<text x="547.0" y="259.7" font-size="9" fill="#222" stroke="#222" stroke-width="0.22">cdynGENIE3</text>
<rect x="539.7" y="267.4" width="6" height="3.4" fill="#2aa83c" stroke="#1a6a28" stroke-width="0.4"/>
<text x="547.0" y="271.7" font-size="9" fill="#222" stroke="#222" stroke-width="0.22">cCorto</text>
<rect x="539.7" y="279.4" width="6" height="3.4" fill="#55585a" stroke="#26282a" stroke-width="0.4"/>
<text x="547.0" y="283.7" font-size="9" fill="#222" stroke="#222" stroke-width="0.22">All expressed TF</text>
</g>
<g id="logo">
<circle cx="649.0" cy="416.9" r="40.4" fill="#fff" stroke="#17813b" stroke-width="1.3"/>
<circle cx="649.0" cy="417.09999999999997" r="29.7" fill="#17813b"/>
<defs><path id="arcTop" d="M616.92,412.02 A32.45,32.45 0 0 1 681.14,421.42"/>
<path id="arcBot" d="M612.91,422.36 A36.5,36.5 0 0 0 685.05,422.61"/></defs>
<text class="cj" font-size="6.7" font-weight="bold" fill="#17813b" letter-spacing="0.947" stroke="#17813b" stroke-width="0.22"><textPath href="#arcTop" startOffset="1.61">中国农业科学院棉花研究所</textPath></text>
<text font-size="4.0" font-weight="bold" fill="#17813b" stroke="none" textLength="102.5" lengthAdjust="spacingAndGlyphs"><textPath href="#arcBot" startOffset="0">INSTITUTE OF COTTON RESEARCH OF CAAS</textPath></text>
<circle cx="613.8" cy="414.2" r="0.9" fill="#17813b"/><circle cx="684.5" cy="417.0" r="0.9" fill="#17813b"/>
<g fill="none" stroke="#fff" stroke-linecap="butt">
<path stroke-width="3.8" d="M640.6,411.2 C639.2,408.6 637.2,407.3 634.6,407.3 C630.2,407.3 627.0,411.2 627.0,416.0 C627.0,421.2 630.6,425.0 635.6,425.0 C639.2,425.0 642.4,423.4 645.6,420.6"/>
<path stroke-width="4.0" d="M648.6,415.0 C645.0,414.2 642.6,410.4 642.6,405.6 C642.6,400.9 646.0,397.7 650.4,397.7 C654.8,397.7 658.2,400.9 658.2,405.6 C658.2,408.4 657.4,410.4 655.4,412.2"/>
<path stroke-width="4.9" d="M657.3,414.6 C659.5,411.2 662.0,409.6 665.2,409.6 C669.0,409.6 671.2,412.6 671.2,416.6 C671.2,421.2 668.0,424.2 663.8,424.2 C661.0,424.2 658.5,423.8 656.3,423.0"/>
</g>
<path d="M633.5,434.3 L639.6,434.3 L647.3,425.3 L652.5,418.3 L657.0,413.1 L658.9,411.2 L655.7,411.2 L649.3,416.3 L642.8,424.1 Z" fill="#fff"/>
<path d="M641.9,434.3 L647.0,434.3 L651.2,427.3 L655.7,420.2 L660.2,413.8 L658.3,413.1 L655.7,416.3 L649.3,425.3 Z" fill="#fff"/>
<path d="M651.0,426.6 L656.6,425.4 L658.9,434.3 L652.5,434.3 Z" fill="#fff"/>
<text x="648.5" y="443.0" font-size="4.8" font-weight="bold" fill="#fff" text-anchor="middle" stroke="#fff" stroke-width="0.22">1957</text>
</g>
</g>
</svg></body></html>
